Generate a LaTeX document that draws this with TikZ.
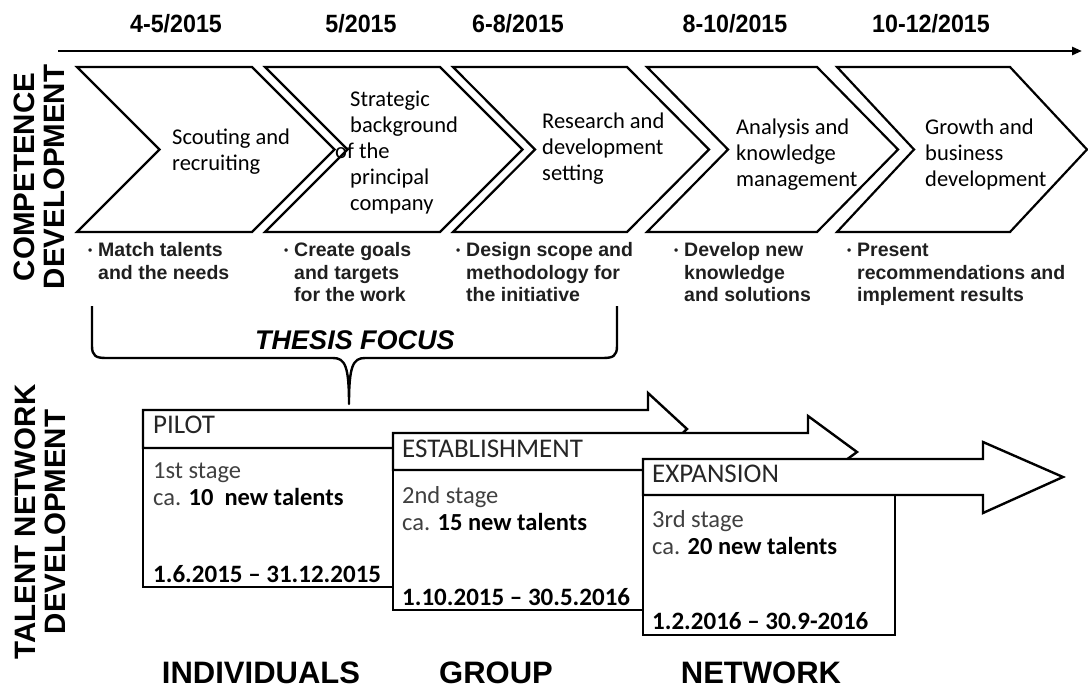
\documentclass[tikz,border=0pt]{standalone}
\usepackage{fontspec}
\setmainfont{Carlito}
\newfontfamily\hsans{Liberation Sans}
\newfontfamily\hsansn[FakeStretch=0.93]{Liberation Sans}
\usetikzlibrary{arrows.meta}
% bullet mark with hanging indent
\newcommand\bul{\makebox[10pt][l]{\raisebox{1.5pt}{\fontsize{12}{12}\selectfont\textbullet}}}
\newcommand\hang{\hspace*{10pt}}
% left-aligned lines, node baseline on the first line
\newcommand\rows[1]{\begin{tabular}[t]{@{}l@{}}#1\end{tabular}}
% chevron: left x, top width, depth
\newcommand\chevron[3]{%
  \draw[chev] (#1,67) -- ++(#2,0) -- ++(#3,82.5) -- ++(-#3,82.5) -- ++(-#2,0) -- ++(#3,-82.5) -- cycle;}
\begin{document}
\begin{tikzpicture}[x=1pt,y=-1pt,
  chev/.style={draw, line width=2.2pt, line join=miter, fill=white},
  stagebox/.style={draw, line width=2.4pt, fill=white, line join=miter},
  datelbl/.style={font=\hsansn\bfseries\fontsize{25}{25}\selectfont, anchor=base, inner sep=0},
  sidelbl/.style={font=\hsans\bfseries\fontsize{29.5}{30}\selectfont, rotate=90, align=center, inner sep=0},
  levellbl/.style={font=\hsans\bfseries\fontsize{31}{31}\selectfont, anchor=base, inner sep=0},
  steptxt/.style={font=\fontsize{22.5}{26}\selectfont, align=left, anchor=west, inner sep=0},
  bultxt/.style={font=\hsans\bfseries\fontsize{19.5}{23}\selectfont, anchor=base west, inner sep=0, text=black!88},
  stagehead/.style={font=\fontsize{27}{27}\selectfont, anchor=base west, inner sep=0, text=black!85},
  stagebody/.style={font=\fontsize{24.5}{27}\selectfont, anchor=base west, inner sep=0, text=black!75},
  stagedate/.style={font=\bfseries\fontsize{25}{25}\selectfont, anchor=base west, inner sep=0},
]
\useasboundingbox (0,0) rectangle (1088,690);

% time axis
\coordinate (axisL) at (58,51);
\coordinate (axisR) at (1082,51);
\draw[line width=2.8pt, -{Triangle[length=10pt,width=8pt]}] (axisL) -- (axisR);

\node[datelbl] (d1) at (176,33) {4-5/2015};
\node[datelbl] (d2) at (361,33) {5/2015};
\node[datelbl] (d3) at (518,33) {6-8/2015};
\node[datelbl] (d4) at (735,33) {8-10/2015};
\node[datelbl] (d5) at (931,33) {10-12/2015};

% row labels
\node[sidelbl] (compdev) at (39,177) {COMPETENCE\\DEVELOPMENT};
\node[sidelbl] (talentdev) at (40,522) {TALENT NETWORK\\DEVELOPMENT};

% process chevrons
\chevron{77}{175}{82.5}
\chevron{265}{175}{82.5}
\chevron{453}{174}{82}
\chevron{647}{170}{81}
\chevron{837}{173}{77}

\node[steptxt] (s1) at (172,152) {Scouting and\\recruiting};
\node[steptxt] (s2) at (350,153) {Strategic\\background\\\hspace*{-15pt}of the\\principal\\company};
\node[steptxt] (s3) at (542,149) {Research and\\development\\setting};
\node[steptxt] (s4) at (736,155) {Analysis and\\knowledge\\management};
\node[steptxt] (s5) at (925,155) {Growth and\\business\\development};

% tasks under each step
\node[bultxt] (t1) at (88,256) {\rows{\bul Match talents\\\hang and the needs}};
\node[bultxt] (t2) at (284,256) {\rows{\bul Create goals\\\hang and targets\\\hang for the work}};
\node[bultxt] (t3) at (456,256) {\rows{\bul Design scope and\\\hang methodology for\\\hang the initiative}};
\node[bultxt] (t4) at (674,256) {\rows{\bul Develop new\\\hang knowledge\\\hang and solutions}};
\node[bultxt] (t5) at (847,256) {\rows{\bul Present\\\hang recommendations and\\\hang implement results}};

% brace over the first three steps
\coordinate (braceL) at (92,306);
\coordinate (braceR) at (617,306);
\coordinate (braceTip) at (349,404);
\draw[line width=2.4pt, line join=round]
  (braceL) -- (92,346) .. controls (92,356) and (96,358) .. (106,358)
  -- (333,358) .. controls (345,358) and (349,366) .. (braceTip)
  .. controls (349,366) and (353,358) .. (365,358)
  -- (603,358) .. controls (613,358) and (617,356) .. (617,346) -- (braceR);
\node[font=\hsans\bfseries\itshape\fontsize{27}{27}\selectfont, anchor=base, inner sep=0] (focus) at (355,349) {THESIS FOCUS};

% stage 1: pilot
\draw[stagebox] (143,448) rectangle (393,587);
\draw[stagebox] (143,410) -- (648,410) -- (648,393) -- (687,429) -- (648,465) -- (648,448) -- (143,448) -- cycle;
% stage 2: establishment
\draw[stagebox] (393,470) rectangle (643,610);
\draw[stagebox] (393,433) -- (808,433) -- (808,416) -- (857,452) -- (808,488) -- (808,470) -- (393,470) -- cycle;
% stage 3: expansion
\draw[stagebox] (643,495) rectangle (895,635);
\draw[stagebox] (643,459) -- (983,459) -- (983,442) -- (1063,477) -- (983,513) -- (983,495) -- (643,495) -- cycle;

\node[stagehead] (h1) at (153,433) {PILOT};
\node[stagebody] (b1) at (153,478) {\rows{1st stage\\ca. \textbf{\color{black}10\ \ new talents}}};
\node[stagedate] (p1) at (153,582) {1.6.2015 – 31.12.2015};

\node[stagehead] (h2) at (402,457) {ESTABLISHMENT};
\node[stagebody] (b2) at (402,503) {\rows{2nd stage\\ca. \textbf{\color{black}15 new talents}}};
\node[stagedate] (p2) at (402,605) {1.10.2015 – 30.5.2016};

\node[stagehead] (h3) at (652,482) {EXPANSION};
\node[stagebody] (b3) at (652,527) {\rows{3rd stage\\ca. \textbf{\color{black}20 new talents}}};
\node[stagedate] (p3) at (652,629) {1.2.2016 – 30.9-2016};

% levels of the network
\node[levellbl] (lv1) at (261,683) {INDIVIDUALS};
\node[levellbl] (lv2) at (496,683) {GROUP};
\node[levellbl] (lv3) at (761,683) {NETWORK};
\end{tikzpicture}
\end{document}
